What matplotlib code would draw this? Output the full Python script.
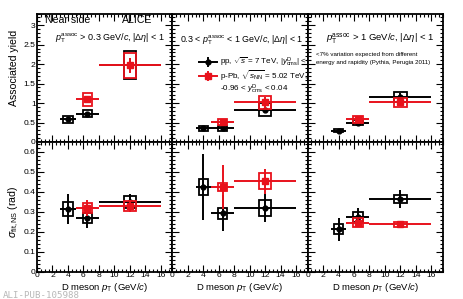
import numpy as np
import matplotlib
matplotlib.use("Agg")
import matplotlib.pyplot as plt
from matplotlib.patches import Rectangle
from matplotlib.ticker import MultipleLocator, FuncFormatter

plt.rcParams['font.family'] = ['Liberation Sans', 'DejaVu Sans']
plt.rcParams['mathtext.fontset'] = 'custom'
plt.rcParams['mathtext.rm'] = 'Liberation Sans'
plt.rcParams['mathtext.it'] = 'Liberation Sans:italic'
plt.rcParams['mathtext.bf'] = 'Liberation Sans:bold'

# D meson pT bins
bin_lo = [3, 5, 8]
bin_hi = [5, 8, 16]
pt_pp = [4, 6.5, 12]
pt_ppb = [6.5, 12]

# associated yield, near side (3 pT(assoc) ranges)
yield_pp = [[0.58, 0.73, 1.98], [0.35, 0.35, 0.83], [0.29, 0.50, 1.15]]
yield_pp_stat = [[0.05, 0.05, 0.18], [0.03, 0.03, 0.05], [0.02, 0.04, 0.10]]
yield_pp_sys = [[0.10, 0.10, 0.36], [0.07, 0.07, 0.16], [0.04, 0.06, 0.13]]
yield_ppb = [[1.10, 1.97], [0.52, 1.02], [0.58, 1.02]]
yield_ppb_stat = [[0.08, 0.19], [0.04, 0.14], [0.06, 0.08]]
yield_ppb_sys = [[0.17, 0.32], [0.08, 0.17], [0.08, 0.12]]

# near-side peak width
sigma_pp = [[0.312, 0.27, 0.35], [0.425, 0.292, 0.317], [0.213, 0.272, 0.364]]
sigma_pp_stat = [[0.075, 0.05, 0.04], [0.165, 0.09, 0.07], [0.057, 0.048, 0.043]]
sigma_pp_sys = [[0.035, 0.025, 0.03], [0.04, 0.027, 0.04], [0.026, 0.025, 0.02]]
sigma_ppb = [[0.317, 0.33], [0.425, 0.453], [0.245, 0.237]]
sigma_ppb_stat = [[0.04, 0.03], [0.11, 0.063], [0.02, 0.01]]
sigma_ppb_sys = [[0.025, 0.025], [0.02, 0.04], [0.022, 0.012]]

RED = '#e8121c'
FS = 6.1


def draw_series(ax, x, lo, hi, y, stat, sys, color, marker, ms, z):
    x = np.asarray(x)
    xerr = [x - np.asarray(lo), np.asarray(hi) - x]
    ax.errorbar(x, y, yerr=stat, xerr=xerr, fmt=marker, color=color, ms=ms,
                lw=1.4, capsize=0, zorder=z)
    for xi, yi, si in zip(x, y, sys):
        hw = 0.6 if xi < 10 else 0.8
        ax.add_patch(Rectangle((xi - hw, yi - si), 2 * hw, 2 * si, fill=False,
                               ec=color, lw=1.3, zorder=z))


fig = plt.figure(figsize=(4.63, 2.99), dpi=100)
W, H = 463.0, 299.0
col_x = [37, 172.3, 307.6]
col_w = 135.4
top_y, mid_y, bot_y = 13.5, 142, 271.7

axes_top, axes_bot = [], []
for i in range(3):
    at = fig.add_axes([col_x[i] / W, 1 - mid_y / H, col_w / W, (mid_y - top_y) / H])
    ab = fig.add_axes([col_x[i] / W, 1 - bot_y / H, col_w / W, (bot_y - mid_y) / H])
    axes_top.append(at)
    axes_bot.append(ab)

fmt = FuncFormatter(lambda v, p: '%g' % round(v, 3))
for i in range(3):
    at, ab = axes_top[i], axes_bot[i]
    at.set_xlim(0, 17.5)
    ab.set_xlim(0, 17.5)
    at.set_ylim(0, 3.3)
    ab.set_ylim(0, 0.65)
    for ax in (at, ab):
        ax.xaxis.set_major_locator(MultipleLocator(2))
        ax.xaxis.set_minor_locator(MultipleLocator(0.5))
        ax.tick_params(which='both', direction='in', top=True, right=True,
                       labelsize=FS, width=0.8, pad=1)
        ax.tick_params(axis='x', pad=0.5)
        ax.tick_params(which='major', length=5)
        ax.tick_params(which='minor', length=2.5)
        for s in ax.spines.values():
            s.set_linewidth(1.3)
        ax.xaxis.set_major_formatter(fmt)
        ax.yaxis.set_major_formatter(fmt)
    at.yaxis.set_major_locator(MultipleLocator(0.5))
    at.yaxis.set_minor_locator(MultipleLocator(0.1))
    ab.yaxis.set_major_locator(MultipleLocator(0.1))
    ab.yaxis.set_minor_locator(MultipleLocator(0.02))
    at.tick_params(labelbottom=False)
    if i > 0:
        at.tick_params(labelleft=False)
        ab.tick_params(labelleft=False)
    ab.text(0.5, -16.0 / 129.7, 'D meson $p_{\\mathrm{T}}$ (GeV/$c$)', transform=ab.transAxes,
            fontsize=6.8, ha='center', va='center')

    draw_series(at, pt_pp, bin_lo, bin_hi, yield_pp[i], yield_pp_stat[i],
                yield_pp_sys[i], 'black', 'o', 3.5, 3)
    draw_series(at, pt_ppb, bin_lo[1:], bin_hi[1:], yield_ppb[i], yield_ppb_stat[i],
                yield_ppb_sys[i], RED, 's', 4, 4)
    draw_series(ab, pt_pp, bin_lo, bin_hi, sigma_pp[i], sigma_pp_stat[i],
                sigma_pp_sys[i], 'black', 'o', 3.5, 3)
    draw_series(ab, pt_ppb, bin_lo[1:], bin_hi[1:], sigma_ppb[i], sigma_ppb_stat[i],
                sigma_ppb_sys[i], RED, 's', 4, 4)

# annotations
a0, a1, a2 = axes_top
a0.text(0.059, 0.95, 'Near side', transform=a0.transAxes, fontsize=7.6, va='center')
a0.text(0.85, 0.95, 'ALICE', transform=a0.transAxes, fontsize=7.6, va='center', ha='right')
a0.text(0.13, 0.81, '$p_{\\mathrm{T}}^{\\mathrm{assoc}}$ > 0.3 GeV/$c$, |$\\Delta\\eta$| < 1',
        transform=a0.transAxes, fontsize=6.5, va='center')
a1.text(0.055, 0.795, '0.3 < $p_{\\mathrm{T}}^{\\mathrm{assoc}}$ < 1 GeV/$c$, |$\\Delta\\eta$| < 1',
        transform=a1.transAxes, fontsize=6.4, va='center')
a2.text(0.135, 0.80, '$p_{\\mathrm{T}}^{\\mathrm{assoc}}$ > 1 GeV/$c$, |$\\Delta\\eta$| < 1',
        transform=a2.transAxes, fontsize=6.8, va='center')
a2.text(0.06, 0.65, '<7% variation expected from different\nenergy and rapidity (Pythia, Perugia 2011)',
        transform=a2.transAxes, fontsize=4.4, va='center', linespacing=1.55)

# legend (manual, ROOT style)
leg_rows = [0.623, 0.514, 0.412]
for yr, col, mk, ms in [(leg_rows[0], 'black', 'o', 3.5), (leg_rows[1], RED, 's', 4)]:
    a1.plot([0.197, 0.33], [yr, yr], color=col, lw=1.4, transform=a1.transAxes, clip_on=False)
    a1.plot([0.263], [yr], marker=mk, ms=ms, color=col, transform=a1.transAxes, clip_on=False)
    a1.plot([0.263, 0.263], [yr - 0.03, yr + 0.03], color=col, lw=1.4,
            transform=a1.transAxes, clip_on=False)
a1.text(0.352, leg_rows[0], 'pp, $\\sqrt{s}$ = 7 TeV, |$y^{\\mathrm{D}}_{\\mathrm{cms}}$| < 0.5',
        transform=a1.transAxes, fontsize=5.8, va='center')
a1.text(0.352, leg_rows[1], 'p-Pb, $\\sqrt{s_{\\mathrm{NN}}}$ = 5.02 TeV,',
        transform=a1.transAxes, fontsize=5.8, va='center')
a1.text(0.352, leg_rows[2], '-0.96 < $y^{\\mathrm{D}}_{\\mathrm{cms}}$ < 0.04',
        transform=a1.transAxes, fontsize=5.8, va='center')

fig.text(14 / W, 1 - 30 / H, 'Associated yield', rotation=90, ha='center', va='top', fontsize=7.6)
fig.text(14 / W, 1 - 186 / H, '$\\sigma_{\\mathrm{fit,NS}}$ (rad)', rotation=90,
         ha='center', va='top', fontsize=7.6)
fig.text(3 / W, 1 - 295.5 / H, 'ALI-PUB-105988', fontsize=6.6, color='#b8b8b8',
         family='DejaVu Sans Mono', va='center')

fig.savefig('out.png', dpi=100)
